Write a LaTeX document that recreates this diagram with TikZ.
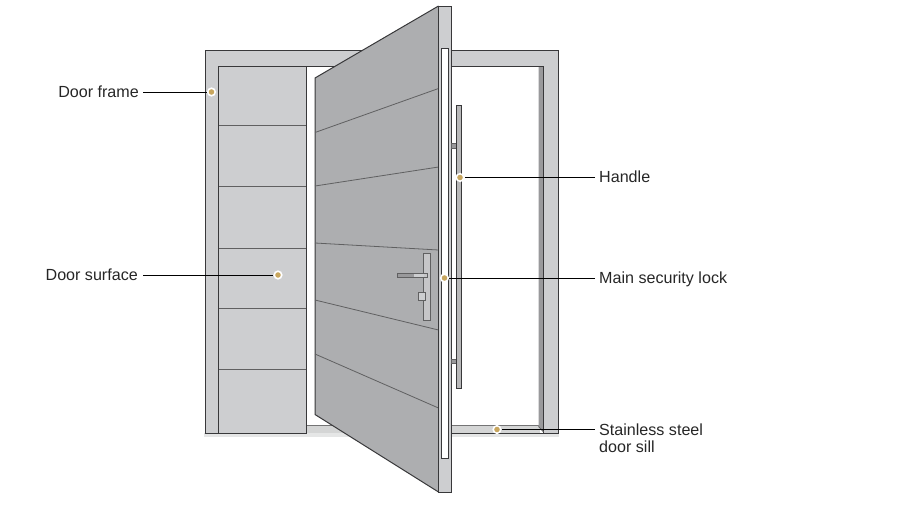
\documentclass[tikz,border=0pt]{standalone}
\usepackage{fontspec}
\setmainfont{Liberation Sans}
\definecolor{framegray}{HTML}{CDCED0}
\definecolor{doorgray}{HTML}{ADAEB0}
\definecolor{edgegray}{HTML}{99999B}
\definecolor{sillgray}{HTML}{D4D5D5}
\definecolor{inkgray}{HTML}{38383A}
\definecolor{pingold}{HTML}{C8A65E}
\tikzset{
  part/.style={draw=inkgray, line width=1pt, line join=miter},
  seam/.style={draw=inkgray!80, line width=0.8pt},
  callout/.style={font=\fontsize{16.1pt}{17pt}\selectfont, text=black!85, inner sep=0pt},
  calloutline/.style={callout, text height=12.5pt, text depth=2.5pt},
  pin/.style={circle, fill=pingold, draw=white, line width=1.6pt, minimum size=7.5pt, inner sep=0pt},
  leader/.style={draw=black, line width=0.8pt}
}
\begin{document}
\begin{tikzpicture}[x=1pt, y=-1pt]
  \useasboundingbox (0,0) rectangle (902,517);
  % Sill
  \fill[sillgray!60] (204,433) rectangle (559,437);
  \fill[sillgray] (306,425.5) rectangle (540,433);
  \draw[part, draw=inkgray!70, line width=0.5pt] (306,425.5) -- (540,425.5);
  % Door frame
  \fill[framegray] (205,433) -- (205,50) -- (558,50) -- (558,433) -- (543.5,433) -- (543.5,66.5) -- (218.5,66.5) -- (218.5,433) -- cycle;
  \fill[edgegray] (538.5,66.5) -- (543.5,66.5) -- (543.5,432) -- (538.5,426.5) -- cycle;
  \draw[part] (205,433) -- (205,50) -- (558,50) -- (558,433) -- (543.5,433) -- (543.5,66.5) -- (218.5,66.5);
  \draw[part] (204.5,433) -- (306,433);
  \draw[part] (451,433) -- (558,433);
  \draw[seam] (538.5,426.5) -- (543.5,432);
  % Side panel
  \fill[framegray] (218.5,66.5) rectangle (306,433);
  \draw[part] (306,66.5) -- (218.5,66.5) -- (218.5,433) -- (306,433) -- cycle;
  \foreach \y in {125,186.5,248,308,369.5}
    \draw[seam] (218.5,\y) -- (306,\y);
  % Door leaf
  \fill[doorgray] (315,78) -- (438.5,6) -- (438.5,492) -- (315,414.5) -- cycle;
  \draw[part] (438.5,6) -- (315,78) -- (315,414.5) -- (438.5,492);
  \draw[seam] (315,132.5) -- (438.5,88.5);
  \draw[seam] (315,186) -- (438.5,167);
  \draw[seam] (315,243) -- (438.5,250);
  \draw[seam] (315,300) -- (438.5,330);
  \draw[seam] (315,354) -- (438.5,408);
  % Door edge
  \fill[framegray] (438.5,6) rectangle (451.5,492);
  \draw[part] (438.5,6) rectangle (451.5,492);
  \fill[white] (441.5,48) rectangle (448,458.5);
  \draw[part] (441.5,48) rectangle (448,458.5);
  % Handle
  \fill[edgegray] (451.5,143.5) rectangle (456,148);
  \fill[edgegray] (451.5,359) rectangle (456,363.5);
  \draw[seam] (451.5,143.5) rectangle (456,148);
  \draw[seam] (451.5,359) rectangle (456,363.5);
  \fill[edgegray!70] (456,105) rectangle (461,388.5);
  \draw[part] (456,105) rectangle (461,388.5);
  % Lock
  \fill[doorgray!70] (423,253) rectangle (430.5,320.5);
  \draw[seam] (423,253) rectangle (430.5,320.5);
  \fill[edgegray] (397.5,273.5) rectangle (414,277.5);
  \fill[framegray] (414,273.5) rectangle (424,277.5);
  \draw[seam] (397.5,273.5) rectangle (427,277.5);
  \fill[framegray] (418,292) rectangle (425.5,300);
  \draw[seam] (418,292) rectangle (425.5,300);
  % Labels
  \node[calloutline, anchor=east] (lblframe) at (139,92) {Door frame};
  \node[calloutline, anchor=east] (lblsurface) at (138,275) {Door surface};
  \node[calloutline, anchor=west] (lblhandle) at (599,177.5) {Handle};
  \node[calloutline, anchor=west] (lbllock) at (599,278) {Main security lock};
  \node[callout, anchor=north west, align=left] (lblsill) at (599,423.5) {Stainless steel\\door sill};
  % Pins
  \node[pin] (pinframe) at (211.5,92) {};
  \node[pin] (pinsurface) at (278,275) {};
  \node[pin] (pinhandle) at (460,177.5) {};
  \node[pin] (pinlock) at (444.5,278) {};
  \node[pin] (pinsill) at (497,429.5) {};
  % Leaders
  \draw[leader] ([xshift=4pt]lblframe.east) -- (pinframe);
  \draw[leader] ([xshift=5pt]lblsurface.east) -- (pinsurface);
  \draw[leader] ([xshift=-4pt]lblhandle.west) -- (pinhandle);
  \draw[leader] ([xshift=-4pt]lbllock.west) -- (pinlock);
  \draw[leader] (pinsill) -- ([xshift=-4pt]pinsill -| lblsill.west);
\end{tikzpicture}
\end{document}
